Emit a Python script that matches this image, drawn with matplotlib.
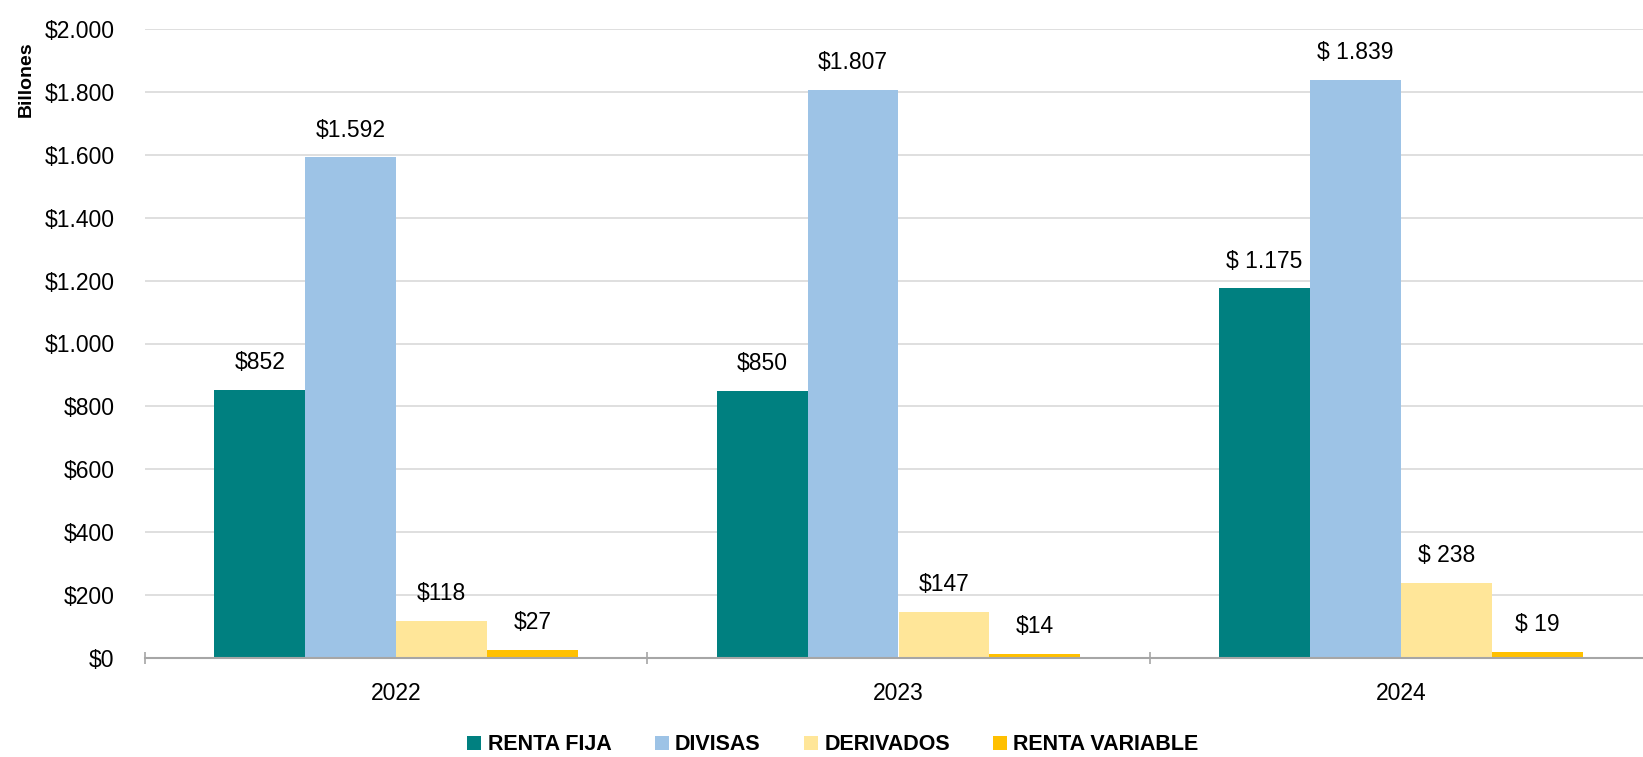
import numpy as np
import matplotlib.pyplot as plt

plt.rcParams['font.family'] = ['Liberation Sans', 'DejaVu Sans']

years = ["2022", "2023", "2024"]
series = ["RENTA FIJA", "DIVISAS", "DERIVADOS", "RENTA VARIABLE"]
renta_fija = [852, 850, 1175]
divisas = [1592, 1807, 1839]
derivados = [118, 147, 238]
renta_variable = [27, 14, 19]
labels = [
    ["$852", "$850", "$ 1.175"],
    ["$1.592", "$1.807", "$ 1.839"],
    ["$118", "$147", "$ 238"],
    ["$27", "$14", "$ 19"],
]
yticks = [0, 200, 400, 600, 800, 1000, 1200, 1400, 1600, 1800, 2000]
ytick_labels = ["$0", "$200", "$400", "$600", "$800", "$1.000", "$1.200",
                "$1.400", "$1.600", "$1.800", "$2.000"]

colors = ["#008080", "#9DC3E6", "#FFE699", "#FFC000"]
values = [renta_fija, divisas, derivados, renta_variable]

fig = plt.figure(figsize=(16.43, 7.57), dpi=100)
ax = fig.add_axes([145 / 1643, 1 - 658 / 757, (1652 - 145) / 1643, (658 - 29) / 757])

x = np.arange(len(years))
w = 0.181
for i, (vals, color, name) in enumerate(zip(values, colors, series)):
    pos = x + (i - 1.5) * w
    ax.bar(pos, vals, width=w, color=color, label=name, zorder=2)
    for p, v, lab in zip(pos, vals, labels[i]):
        ax.text(p, v + 50, lab, ha="center", va="bottom", fontsize=16.5, color="black")

ax.set_xlim(-0.5, 2.5)
ax.set_ylim(0, 2000)
ax.set_yticks(yticks)
ax.set_yticklabels(ytick_labels, fontsize=16.5)
ax.set_xticks(x)
ax.set_xticklabels(years, fontsize=16.5)
ax.set_xticks([-0.5, 0.5, 1.5, 2.5], minor=True)
ax.tick_params(axis="x", which="major", length=0, pad=17)
ax.tick_params(axis="x", which="minor", length=9, color="#A6A6A6", width=1.2, direction="inout")
ax.tick_params(axis="y", length=0, pad=22)

ax.grid(axis="y", color="#D9D9D9", linewidth=1.2, zorder=0)
ax.set_axisbelow(True)
for side in ("top", "right", "left"):
    ax.spines[side].set_visible(False)
ax.spines["bottom"].set_color("#A6A6A6")
ax.spines["bottom"].set_linewidth(1.5)
ax.spines["bottom"].set_zorder(3)

fig.text(26 / 1643, 1 - 79 / 757, "Billones", rotation=90, ha="center", va="center",
         fontsize=14, fontweight="bold")

leg = fig.legend(loc="center", bbox_to_anchor=(833 / 1643, 1 - 745 / 757), ncol=4,
                 frameon=False, prop={"size": 15.5, "weight": "bold"},
                 handlelength=0.65, handleheight=0.65, handletextpad=0.3, columnspacing=2.0)

fig.savefig("out.png", dpi=100)
